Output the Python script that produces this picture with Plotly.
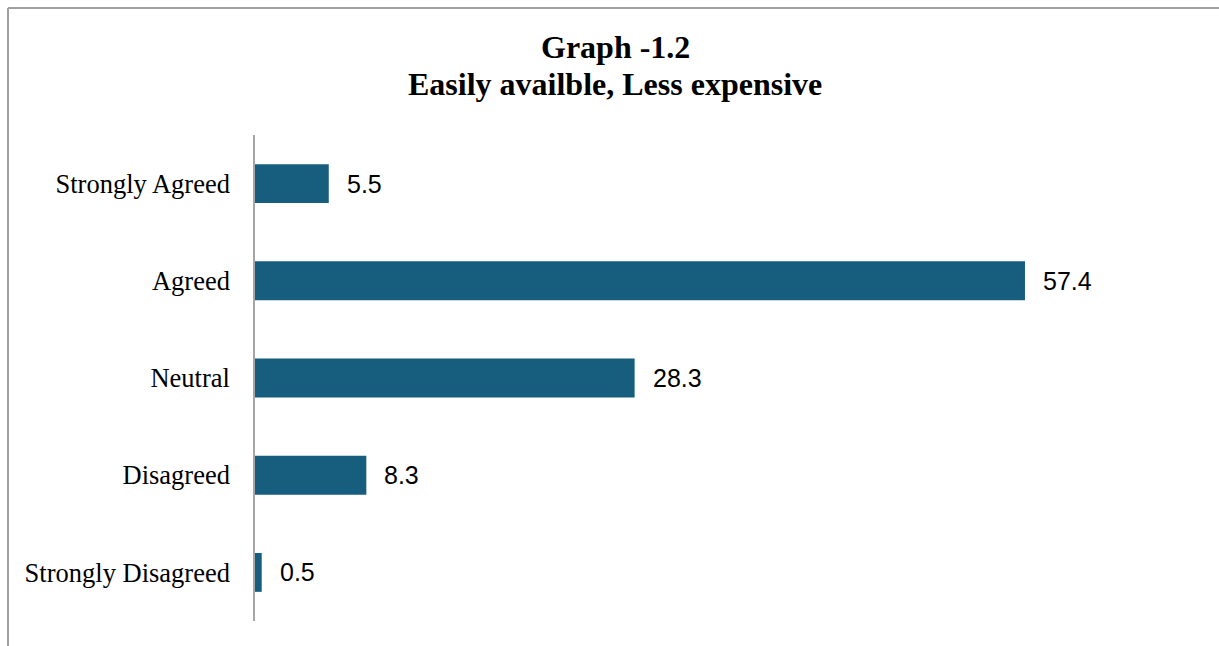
import plotly.graph_objects as go

categories = ["Strongly Agreed", "Agreed", "Neutral", "Disagreed", "Strongly Disagreed"]
values = [5.5, 57.4, 28.3, 8.3, 0.5]
labels = ["5.5", "57.4", "28.3", "8.3", "0.5"]
title_lines = ["Graph -1.2", "Easily availble, Less expensive"]

W, H = 1219, 646
ml, mr, mt, mb = 255, 25, 135, 25
pw, ph = W - ml - mr, H - mt - mb

def px_x(p):
    return (p - ml) / pw

def px_y(p):
    return (H - mb - p) / ph

fig = go.Figure()
fig.add_trace(go.Bar(
    x=values, y=categories, orientation="h",
    marker=dict(color="#175E7E", line=dict(width=0)),
    width=0.4, hoverinfo="skip",
))

for v, c, t in zip(values, categories, labels):
    fig.add_annotation(x=v, y=c, text=t, showarrow=False, xanchor="left",
                       xshift=16, font=dict(family="Liberation Sans, Arial", size=25, color="black"))

for t, yc in zip(title_lines, [47, 84]):
    fig.add_annotation(xref="paper", yref="paper", x=px_x(615), y=px_y(yc), text="<b>" + t + "</b>",
                       showarrow=False, xanchor="center", yanchor="middle",
                       font=dict(family="Liberation Serif, Times New Roman", size=32, color="black"))

fig.add_shape(type="line", xref="paper", yref="paper",
              x0=px_x(8), x1=px_x(W + 5), y0=px_y(8), y1=px_y(8),
              line=dict(color="#a0a0a0", width=2))
fig.add_shape(type="line", xref="paper", yref="paper",
              x0=px_x(8), x1=px_x(8), y0=px_y(8), y1=px_y(H + 5),
              line=dict(color="#a0a0a0", width=2))

fig.update_layout(
    width=W, height=H,
    margin=dict(l=ml, r=mr, t=mt, b=mb),
    paper_bgcolor="white", plot_bgcolor="white",
    showlegend=False,
    xaxis=dict(range=[0, 70], visible=False, fixedrange=True),
    yaxis=dict(categoryorder="array", categoryarray=categories, autorange="reversed",
               showline=True, linecolor="#a6a6a6", linewidth=1.5,
               showgrid=False, zeroline=False, ticks="", ticklabelstandoff=18,
               tickfont=dict(family="Liberation Serif, Times New Roman", size=26.5, color="black")),
)

fig.write_html("out.html")
